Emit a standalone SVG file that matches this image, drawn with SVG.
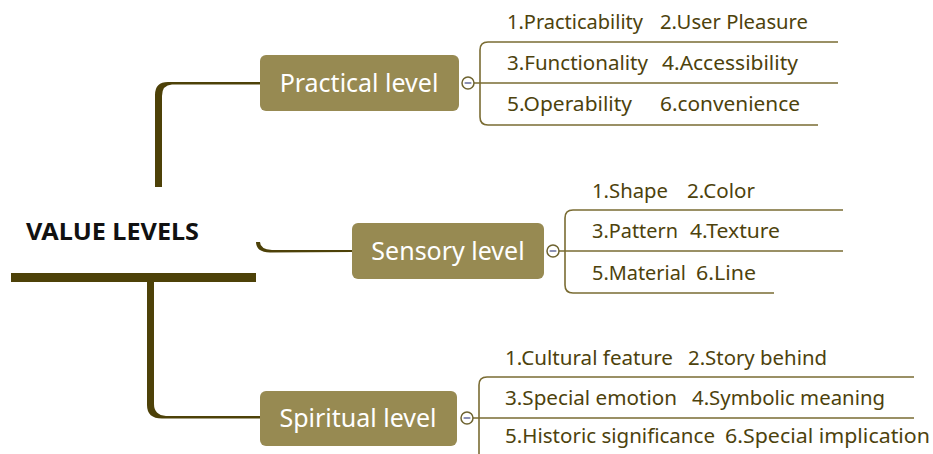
<svg xmlns="http://www.w3.org/2000/svg" width="933" height="454" viewBox="0 0 933 454">
<style>
.node{fill:#978a52;}
.ntxt{font-family:"Noto Sans","Open Sans",sans-serif;font-size:25px;fill:#ffffff;text-anchor:middle;}
.item{font-family:"Noto Sans","Open Sans",sans-serif;font-size:20px;fill:#4d420c;}
.br{fill:none;stroke:#7a6c33;stroke-width:1.6;}
.trunk{fill:#4d4108;}
.tog{fill:#ffffff;stroke:#6e6330;stroke-width:1.5;}
.minus{stroke:#8b90b4;stroke-width:2.2;stroke-linecap:round;}
</style>
<rect width="933" height="454" fill="#ffffff"/>
<g id="central">
<text x="26" y="240" font-family="'Noto Sans','Open Sans',sans-serif" font-size="24" font-weight="bold" fill="#111111" textLength="173" lengthAdjust="spacingAndGlyphs">VALUE LEVELS</text>
<rect class="trunk" x="11" y="273" width="245" height="9"/>
</g>
<g id="connectors">
<path class="trunk" d="M155,187 L155,95 Q155,82 168,82 L260,82 L260,84.5 L172,84.5 Q162,85 162,96 L162,187 Z"/>
<path class="trunk" d="M147,282 L154,282 L154,404 Q154,415 166,416 L260,416 L260,418.5 L162,418.5 Q147,418.5 147,405 Z"/>
<path class="trunk" d="M256,242 L260,242 Q260,249 272,250 L352,250 L352,252 L270,252.5 Q256,252 256,242 Z"/>
<path class="br" d="M474,83 L838,83 M488,42 L838,42 M488,42 Q480,42 480,50 L480,117 Q480,125 488,125 L818,125"/>
<path class="br" d="M559,251 L843,251 M573,210 L843,210 M573,210 Q565,210 565,218 L565,285 Q565,293 573,293 L774,293"/>
<path class="br" d="M473,418 L914,418 M487,377 L914,377 M487,377 Q479,377 479,385 L479,454"/>
</g>
<g id="practical">
<rect class="node" x="260" y="55" width="199" height="56" rx="6"/>
<text class="ntxt" x="359" y="92">Practical level</text>
<circle class="tog" cx="468" cy="83" r="6"/>
<line class="minus" x1="465.5" y1="83" x2="470.5" y2="83"/>
</g>
<g id="practical-items">
<text class="item" x="507" y="29" textLength="136" lengthAdjust="spacingAndGlyphs">1.Practicability</text>
<text class="item" x="660" y="29" textLength="148" lengthAdjust="spacingAndGlyphs">2.User Pleasure</text>
<text class="item" x="507" y="70" textLength="141" lengthAdjust="spacingAndGlyphs">3.Functionality</text>
<text class="item" x="662" y="70" textLength="136" lengthAdjust="spacingAndGlyphs">4.Accessibility</text>
<text class="item" x="507" y="111" textLength="125" lengthAdjust="spacingAndGlyphs">5.Operability</text>
<text class="item" x="660" y="111" textLength="140" lengthAdjust="spacingAndGlyphs">6.convenience</text>
</g>
<g id="sensory">
<rect class="node" x="352" y="223" width="192" height="56" rx="6"/>
<text class="ntxt" x="448" y="260">Sensory level</text>
<circle class="tog" cx="553" cy="251" r="6"/>
<line class="minus" x1="550.5" y1="251" x2="555.5" y2="251"/>
</g>
<g id="sensory-items">
<text class="item" x="592" y="198" textLength="76" lengthAdjust="spacingAndGlyphs">1.Shape</text>
<text class="item" x="687" y="198" textLength="68" lengthAdjust="spacingAndGlyphs">2.Color</text>
<text class="item" x="592" y="238" textLength="86" lengthAdjust="spacingAndGlyphs">3.Pattern</text>
<text class="item" x="690" y="238" textLength="90" lengthAdjust="spacingAndGlyphs">4.Texture</text>
<text class="item" x="592" y="280" textLength="94" lengthAdjust="spacingAndGlyphs">5.Material</text>
<text class="item" x="696" y="280" textLength="60" lengthAdjust="spacingAndGlyphs">6.Line</text>
</g>
<g id="spiritual">
<rect class="node" x="260" y="391" width="197" height="55" rx="6"/>
<text class="ntxt" x="358" y="427">Spiritual level</text>
<circle class="tog" cx="467" cy="418" r="6"/>
<line class="minus" x1="464.5" y1="418" x2="469.5" y2="418"/>
</g>
<g id="spiritual-items">
<text class="item" x="505" y="365" textLength="168" lengthAdjust="spacingAndGlyphs">1.Cultural feature</text>
<text class="item" x="688" y="365" textLength="139" lengthAdjust="spacingAndGlyphs">2.Story behind</text>
<text class="item" x="505" y="405" textLength="172" lengthAdjust="spacingAndGlyphs">3.Special emotion</text>
<text class="item" x="692" y="405" textLength="193" lengthAdjust="spacingAndGlyphs">4.Symbolic meaning</text>
<text class="item" x="505" y="443" textLength="210" lengthAdjust="spacingAndGlyphs">5.Historic significance</text>
<text class="item" x="725" y="443" textLength="205" lengthAdjust="spacingAndGlyphs">6.Special implication</text>
</g>
</svg>
